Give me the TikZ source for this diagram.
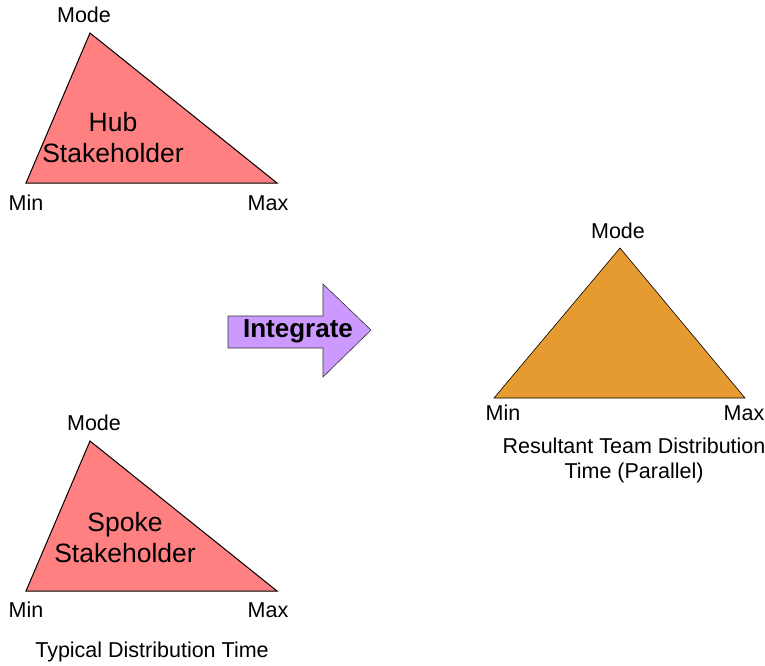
\documentclass[tikz,border=0pt]{standalone}
\usepackage{fontspec}
\setmainfont{Liberation Sans}
\definecolor{hubpink}{HTML}{FF8080}
\definecolor{teamorange}{HTML}{E69B30}
\definecolor{intpurple}{HTML}{CC99FF}
\begin{document}
\begin{tikzpicture}[x=1pt,y=-1pt,
  tri/.style={draw=black,line width=1pt,line join=miter},
  lbl/.style={inner sep=0pt,font=\fontsize{21.5}{25}\selectfont},
  big/.style={inner sep=0pt,align=center,font=\fontsize{26.5}{31}\selectfont},
  captext/.style={inner sep=0pt,align=center,font=\fontsize{21.5}{25}\selectfont}]
\useasboundingbox (0,0) rectangle (765,665);
% Hub triangle
\coordinate (hubMode) at (90,33);
\coordinate (hubMin) at (26,183);
\coordinate (hubMax) at (277,183);
\fill[hubpink] (hubMode) -- (hubMin) -- (hubMax) -- cycle;
\draw[tri] (hubMode) -- (hubMin) -- (hubMax) -- cycle;
\node[lbl] (hubModeL) at (84,15) {Mode};
\node[lbl] (hubMinL) at (26,203) {Min};
\node[lbl] (hubMaxL) at (268,203) {Max};
\node[big] (hubL) at (113,138) {Hub\\Stakeholder};
% Spoke triangle
\coordinate (spkMode) at (90,441);
\coordinate (spkMin) at (26,591);
\coordinate (spkMax) at (277,591);
\fill[hubpink] (spkMode) -- (spkMin) -- (spkMax) -- cycle;
\draw[tri] (spkMode) -- (spkMin) -- (spkMax) -- cycle;
\node[lbl] (spkModeL) at (94,423) {Mode};
\node[lbl] (spkMinL) at (26,610) {Min};
\node[lbl] (spkMaxL) at (268,610) {Max};
\node[big] (spkL) at (125,538) {Spoke\\Stakeholder};
\node[captext] (typCap) at (152,652) {Typical Distribution Time};
% Team triangle
\coordinate (teamMode) at (620,248);
\coordinate (teamMin) at (494,398);
\coordinate (teamMax) at (745,398);
\fill[teamorange] (teamMode) -- (teamMin) -- (teamMax) -- cycle;
\draw[draw=black,line width=0.6pt] (teamMode) -- (teamMin) -- (teamMax) -- cycle;
\node[lbl] (teamModeL) at (618,231) {Mode};
\node[lbl] (teamMinL) at (503,413) {Min};
\node[lbl] (teamMaxL) at (744,413) {Max};
\node[captext] (teamCap) at (634,460) {Resultant Team Distribution\\Time (Parallel)};
% Integrate arrow
\draw[fill=intpurple,draw=black!80,line width=0.6pt]
  (228,316) -- (323,316) -- (323,284) -- (371,330) -- (323,377) -- (323,348) -- (228,348) -- cycle;
\node[inner sep=0pt,font=\bfseries\fontsize{26}{30}\selectfont] (intL) at (298,331) {Integrate};
\end{tikzpicture}
\end{document}
